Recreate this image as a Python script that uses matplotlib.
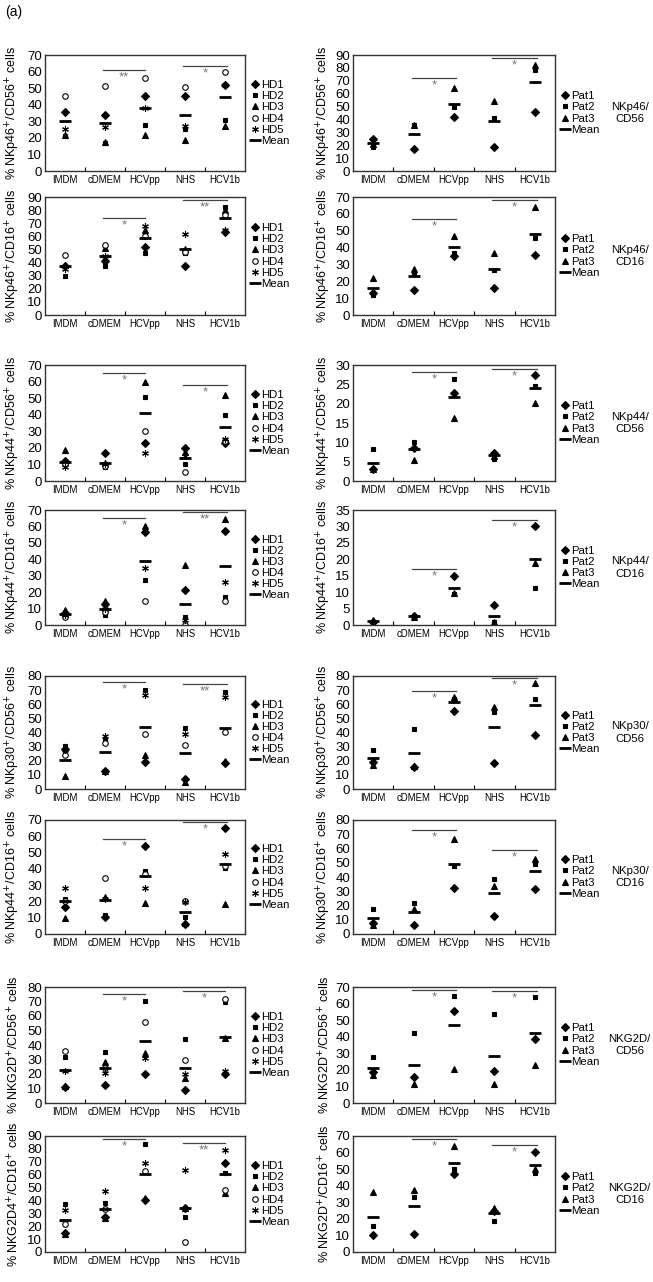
import numpy as np
import matplotlib.pyplot as plt

plt.rcParams['font.family'] = ['Liberation Sans', 'DejaVu Sans']

categories = ['IMDM', 'cDMEM', 'HCVpp', 'NHS', 'HCV1b']
donors = ['HD1', 'HD2', 'HD3', 'HD4', 'HD5']
patients = ['Pat1', 'Pat2', 'Pat3']

# values per subject, columns follow categories
nkp46_cd56_hd = [[35.5, 34, 45, 45, 52],
                 [21, 17, 27.5, 25.5, 31],
                 [22, 17.5, 22, 18.5, 27],
                 [45.5, 51, 56, 50.5, 60],
                 [25.5, 26.5, 38, 27, 52]]
nkp46_cd56_hd_mean = [30.2, 29, 38, 33.5, 44.5]
nkp46_cd56_pat = [[24.5, 17, 42, 19, 45.5],
                  [19, 35.5, 50, 41, 78.5],
                  [21, 36, 64.5, 54.5, 82]]
nkp46_cd56_pat_mean = [22, 29, 52, 39, 69]

nkp46_cd16_hd = [[37, 41.5, 52, 37, 63.5],
                 [29.5, 37, 47, 47, 82],
                 [38, 51, 65, 50, 80],
                 [46, 53.5, 60, 48, 76],
                 [35, 45, 68, 62, 65]]
nkp46_cd16_hd_mean = [37, 45, 59, 50, 74]
nkp46_cd16_pat = [[13, 14.6, 35, 16.2, 35.7],
                  [11.8, 25, 36.5, 26.5, 45.6],
                  [22, 27.5, 47, 36.5, 64]]
nkp46_cd16_pat_mean = [16, 23.3, 40.5, 27, 48.3]

nkp44_cd56_hd = [[12, 17, 23.2, 20, 22.7],
                 [10, 8.3, 50.5, 10, 40],
                 [19, 11, 59.5, 17.7, 52],
                 [10, 9, 30.4, 5.6, 24],
                 [8.7, 10, 16.7, 15, 25.5]]
nkp44_cd56_hd_mean = [11.3, 11, 41.3, 13.9, 32.8]
nkp44_cd56_pat = [[3.0, 8.5, 22.7, 7.2, 27.4],
                  [8.2, 10.2, 26.3, 5.6, 24.6],
                  [3.0, 5.5, 16.4, 6.5, 20.1]]
nkp44_cd56_pat_mean = [4.7, 8.3, 21.8, 6.6, 24]

nkp44_cd16_hd = [[7.5, 13, 56.4, 21.5, 57.4],
                 [6, 6, 27.6, 4.9, 16.8],
                 [9.3, 14.6, 60.5, 36.3, 64.5],
                 [5, 8, 14.8, 0.2, 14.4],
                 [6, 10, 34.5, 3, 26.2]]
nkp44_cd16_hd_mean = [7, 10, 38.7, 12.8, 35.7]
nkp44_cd16_pat = [[1.0, 2.8, 14.8, 6.2, 30],
                  [0.8, 2.5, 9.5, 0.8, 11.4],
                  [1.5, 2.3, 9.8, 0.9, 18.9]]
nkp44_cd16_pat_mean = [1.1, 2.6, 11.4, 2.6, 20.1]

nkp30_cd56_hd = [[28, 12.4, 19, 7, 18.5],
                 [30.3, 35.2, 70, 43.2, 68.5],
                 [9.4, 13, 23.9, 4.7, 20],
                 [24.4, 32.4, 39.2, 31.2, 40.4],
                 [27.7, 37.8, 66.2, 39, 64.8]]
nkp30_cd56_hd_mean = [20.2, 26, 44.1, 25.8, 43.2]
nkp30_cd56_pat = [[19.3, 15.5, 55.5, 18.6, 38.5],
                  [27.6, 42.5, 63.6, 54.3, 63.6],
                  [17.2, 16.5, 65, 57.8, 74.7]]
nkp30_cd56_pat_mean = [21.8, 25.3, 61.5, 43.9, 59.2]

nkp30_cd16_hd = [[16.5, 10.5, 54, 6.3, 65.1],
                 [21.6, 11.5, 38.8, 10.4, 40.6],
                 [10, 22.7, 18.8, 6.5, 18.4],
                 [20, 34.5, 37, 20.4, 42],
                 [28, 21.5, 28, 19.5, 49]]
nkp30_cd16_hd_mean = [20, 20.6, 35.7, 13.3, 43]
nkp30_cd16_pat = [[8, 6, 32.5, 12.8, 31.8],
                  [17.2, 21.6, 47.6, 38.7, 49.2],
                  [6.3, 17.4, 66.6, 33.4, 52.9]]
nkp30_cd16_pat_mean = [11.4, 15.1, 49.4, 28.5, 44.5]

nkg2d_cd56_hd = [[11, 12.7, 20, 8.8, 20],
                 [31.4, 35, 70.4, 44, 69.5],
                 [11.5, 28.4, 34.5, 17.3, 45],
                 [36, 24, 56, 30, 72],
                 [22, 20.8, 31, 20, 22]]
nkg2d_cd56_hd_mean = [23, 24.2, 42.7, 23.8, 45.5]
nkg2d_cd56_pat = [[19, 15.7, 55.5, 19.5, 38.6],
                  [27.8, 42.5, 64.4, 53.9, 63.8],
                  [16.7, 11.7, 20.7, 11.5, 23.1]]
nkg2d_cd56_pat_mean = [21.3, 23.1, 47.3, 28.2, 42.3]

nkg2d_cd16_hd = [[15, 27.4, 40.6, 34, 69.3],
                 [37, 38.2, 84, 27.1, 61],
                 [14.2, 26.4, 42, 34, 45.5],
                 [21.4, 33, 62.5, 7.8, 48.3],
                 [32.3, 47.3, 69, 63.3, 78.8]]
nkg2d_cd16_hd_mean = [24.5, 33, 60.2, 34.1, 60.5]
nkg2d_cd16_pat = [[10, 11, 46.9, 25, 60.6],
                  [15.5, 33.2, 50, 18.5, 47.7],
                  [36.2, 37.6, 63.8, 26.5, 50]]
nkg2d_cd16_pat_mean = [20.9, 28, 53.9, 23.5, 52.3]

# significance bars: (from, to, height, stars)
sig_nkp46_cd56_hd = [(1.45, 2.5, 61, '**'), (3.45, 4.55, 63.5, '*')]
sig_nkp46_cd56_pat = [(1.45, 2.55, 72.5, '*'), (3.45, 4.55, 87.5, '*')]
sig_nkp46_cd16_hd = [(1.45, 2.5, 74, '*'), (3.45, 4.55, 87.5, '**')]
sig_nkp46_cd16_pat = [(1.45, 2.55, 57, '*'), (3.45, 4.55, 68.5, '*')]
sig_nkp44_cd56_hd = [(1.45, 2.5, 65, '*'), (3.45, 4.55, 57.8, '*')]
sig_nkp44_cd56_pat = [(1.45, 2.55, 28.1, '*'), (3.45, 4.55, 29, '*')]
sig_nkp44_cd16_hd = [(1.45, 2.5, 65, '*'), (3.45, 4.55, 68.6, '**')]
sig_nkp44_cd16_pat = [(1.45, 2.55, 17.1, '*'), (3.45, 4.55, 32, '*')]
sig_nkp30_cd56_hd = [(1.45, 2.5, 76, '*'), (3.45, 4.55, 74.4, '**')]
sig_nkp30_cd56_pat = [(1.45, 2.55, 69.6, '*'), (3.45, 4.55, 78.4, '*')]
sig_nkp30_cd16_hd = [(1.45, 2.5, 58.2, '*'), (3.45, 4.55, 68.6, '*')]
sig_nkp30_cd16_pat = [(1.45, 2.55, 73, '*'), (3.45, 4.55, 59, '*')]
sig_nkg2d_cd56_hd = [(1.45, 2.5, 75.3, '*'), (3.45, 4.5, 77, '*')]
sig_nkg2d_cd56_pat = [(1.45, 2.55, 68, '*'), (3.45, 4.55, 67.4, '*')]
sig_nkg2d_cd16_hd = [(1.45, 2.5, 87.6, '*'), (3.45, 4.5, 84.5, '**')]
sig_nkg2d_cd16_pat = [(1.45, 2.55, 68, '*'), (3.45, 4.55, 64.8, '*')]

left_panels = [
    (nkp46_cd56_hd, nkp46_cd56_hd_mean, sig_nkp46_cd56_hd, 'NKp46', 'CD56', 70, 10),
    (nkp46_cd16_hd, nkp46_cd16_hd_mean, sig_nkp46_cd16_hd, 'NKp46', 'CD16', 90, 10),
    (nkp44_cd56_hd, nkp44_cd56_hd_mean, sig_nkp44_cd56_hd, 'NKp44', 'CD56', 70, 10),
    (nkp44_cd16_hd, nkp44_cd16_hd_mean, sig_nkp44_cd16_hd, 'NKp44', 'CD16', 70, 10),
    (nkp30_cd56_hd, nkp30_cd56_hd_mean, sig_nkp30_cd56_hd, 'NKp30', 'CD56', 80, 10),
    (nkp30_cd16_hd, nkp30_cd16_hd_mean, sig_nkp30_cd16_hd, 'NKp44', 'CD16', 70, 10),
    (nkg2d_cd56_hd, nkg2d_cd56_hd_mean, sig_nkg2d_cd56_hd, 'NKG2D', 'CD56', 80, 10),
    (nkg2d_cd16_hd, nkg2d_cd16_hd_mean, sig_nkg2d_cd16_hd, 'NKG2D4', 'CD16', 90, 10),
]
right_panels = [
    (nkp46_cd56_pat, nkp46_cd56_pat_mean, sig_nkp46_cd56_pat, 'NKp46', 'CD56', 90, 10),
    (nkp46_cd16_pat, nkp46_cd16_pat_mean, sig_nkp46_cd16_pat, 'NKp46', 'CD16', 70, 10),
    (nkp44_cd56_pat, nkp44_cd56_pat_mean, sig_nkp44_cd56_pat, 'NKp44', 'CD56', 30, 5),
    (nkp44_cd16_pat, nkp44_cd16_pat_mean, sig_nkp44_cd16_pat, 'NKp44', 'CD16', 35, 5),
    (nkp30_cd56_pat, nkp30_cd56_pat_mean, sig_nkp30_cd56_pat, 'NKp30', 'CD56', 80, 10),
    (nkp30_cd16_pat, nkp30_cd16_pat_mean, sig_nkp30_cd16_pat, 'NKp30', 'CD16', 80, 10),
    (nkg2d_cd56_pat, nkg2d_cd56_pat_mean, sig_nkg2d_cd56_pat, 'NKG2D', 'CD56', 70, 10),
    (nkg2d_cd16_pat, nkg2d_cd16_pat_mean, sig_nkg2d_cd16_pat, 'NKG2D', 'CD16', 70, 10),
]

W, H = 653, 1282
row_px = [(55, 171), (197, 315), (365, 481), (510, 625),
          (676, 789), (820, 934), (987, 1103), (1136, 1252)]

markers = ['D', 's', '^', 'o', (6, 2, 0)]
msizes = [3.6, 3.3, 4.3, 4.0, 4.8]

fig = plt.figure(figsize=(W / 100, H / 100), dpi=100)
fig.text(5 / W, 1 - 12 / H, '(a)', fontsize=10, va='center')

x = np.arange(len(categories)) + 0.5


def draw(ax, vals, mean, sigs, rec, ant, ymax, step, names, right):
    for i, v in enumerate(vals):
        face = 'white' if markers[i] == 'o' else 'black'
        ax.plot(x, v, linestyle='none', marker=markers[i], ms=msizes[i],
                mfc=face, mec='black', mew=0.8, label=names[i])
    ax.plot(x, mean, linestyle='none', marker='_', ms=8, mew=2,
            color='black', label='Mean')
    for a, b, h, s in sigs:
        ax.plot([a, b], [h, h], color='#444', lw=0.9, clip_on=False)
        ax.text((a + b) / 2, h - ymax * 0.012, s, ha='center', va='top',
                fontsize=9.5, color='#777')
    ax.set_xlim(0, 5)
    ax.set_ylim(0, ymax)
    ax.set_yticks(np.arange(0, ymax + 0.1, step))
    ax.set_xticks([1, 2, 3, 4])
    ax.set_xticklabels([])
    ax.set_xticks(x, minor=True)
    ax.set_xticklabels(categories, minor=True, fontsize=6.9)
    ax.tick_params(axis='x', which='major', direction='in', length=3, width=0.8)
    ax.tick_params(axis='x', which='minor', length=0, pad=3)
    ax.tick_params(axis='y', direction='in', length=0, pad=2, labelsize=9.5)
    for sp in ax.spines.values():
        sp.set_color('#333')
        sp.set_linewidth(1.0)
    ax.set_ylabel('%% %s$^{+}$/%s$^{+}$ cells' % (rec, ant), fontsize=9)
    ax.yaxis.set_label_coords(-0.115 if not right else -0.1, 0.5)
    ax.legend(loc='center left', bbox_to_anchor=(1.0, 0.5), frameon=False,
              fontsize=8.2, handlelength=0.5, handletextpad=0.25,
              labelspacing=0.1, borderaxespad=0.25, markerscale=1.0)
    if right:
        ax.text(1.37, 0.5, '%s/\n%s' % (rec, ant), transform=ax.transAxes,
                ha='center', va='center', fontsize=8.2, linespacing=1.3)


for (top, bot), lp, rp in zip(row_px, left_panels, right_panels):
    axl = fig.add_axes([45 / W, 1 - bot / H, 200 / W, (bot - top) / H])
    draw(axl, lp[0], lp[1], lp[2], lp[3], lp[4], lp[5], lp[6], donors, False)
    axr = fig.add_axes([353 / W, 1 - bot / H, 202 / W, (bot - top) / H])
    draw(axr, rp[0], rp[1], rp[2], rp[3], rp[4], rp[5], rp[6], patients, True)

fig.savefig('out.png', dpi=100)
